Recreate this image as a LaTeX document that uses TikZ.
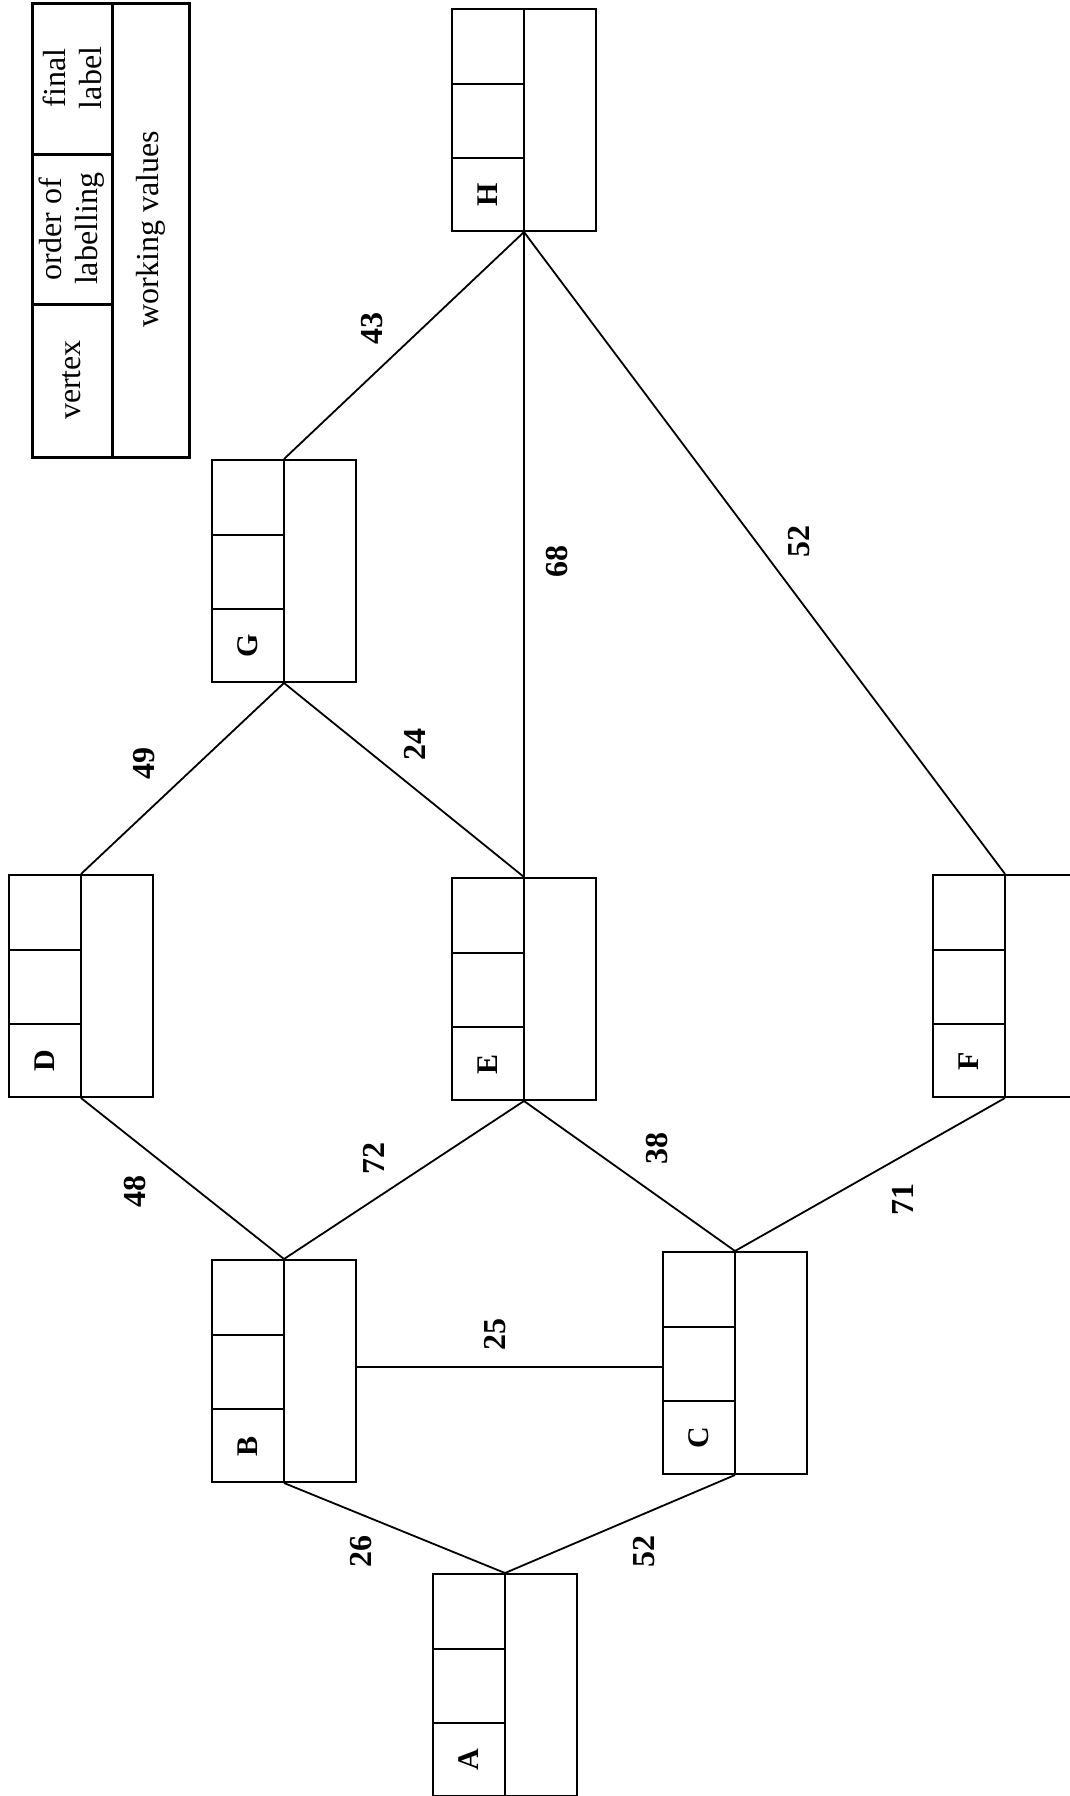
\documentclass[tikz,border=0pt]{standalone}
\usepackage{fontspec}
\setmainfont{Liberation Serif}
\usetikzlibrary{calc}
\tikzset{
  boxnode/.style={draw, line width=2pt, rectangle, minimum width=144pt, minimum height=222pt, inner sep=0pt, anchor=north west},
  cell/.style={line width=2pt},
  edge/.style={line width=1.8pt},
  wlabel/.style={font=\fontsize{32}{36}\selectfont\bfseries, rotate=90, inner sep=0pt},
  vlabel/.style={font=\fontsize{30}{34}\selectfont\bfseries, rotate=90, inner sep=0pt},
  legline/.style={line width=3pt},
  legtext/.style={font=\fontsize{32}{36}\selectfont, rotate=90, align=center, inner sep=0pt},
}
\newcommand{\vtxbox}[4]{%
  \node[boxnode] (#1) at (#2,#3) {};
  \coordinate (#1t) at ($(#1.north west)+(73,0)$);
  \coordinate (#1b) at ($(#1.south west)+(73,0)$);
  \draw[cell] (#1t) -- (#1b);
  \draw[cell] ($(#1.south west)+(0,-74)$) -- ++(73,0);
  \draw[cell] ($(#1.south west)+(0,-148)$) -- ++(73,0);
  \node[vlabel] (#1l) at ($(#1.south west)+(36.5,-37)$) {#4};
}
\begin{document}
\begin{tikzpicture}[x=1pt,y=-1pt]
\useasboundingbox (0,0) rectangle (1069,1796);
% legend
\node[draw, legline, minimum width=157pt, minimum height=454pt, inner sep=0pt, anchor=north west] (leg) at (31,2) {};
\draw[legline] ($(leg.north west)+(81,0)$) -- ($(leg.south west)+(81,0)$);
\draw[legline] (31,154) -- (112,154);
\draw[legline] (31,304) -- (112,304);
\node[legtext] (lfinal) at (72,78) {final\\label};
\node[legtext] (lorder) at (72,229) {order of\\labelling};
\node[legtext] (lvertex) at (72,380) {vertex};
\node[legtext] (lwork) at (151,229) {working values};
% vertex boxes
\vtxbox{A}{432}{1573}{A}
\vtxbox{B}{211}{1259}{B}
\vtxbox{C}{662}{1251}{C}
\vtxbox{D}{8}{874}{D}
\vtxbox{E}{451}{877}{E}
\vtxbox{F}{932}{874}{F}
\vtxbox{G}{211}{459}{G}
\vtxbox{H}{451}{8}{H}
% edges
\draw[edge] (At) -- (Bb);
\draw[edge] (At) -- (Cb);
\coordinate (bc) at (0,1367);
\draw[edge] (B.east |- bc) -- (C.west |- bc);
\draw[edge] (Bt) -- (Db);
\draw[edge] (Bt) -- (Eb);
\draw[edge] (Ct) -- (Eb);
\draw[edge] (Ct) -- (Fb);
\draw[edge] (Dt) -- (Gb);
\draw[edge] (Et) -- (Gb);
\draw[edge] (Et) -- (Hb);
\draw[edge] (Ft) -- (Hb);
\draw[edge] (Gt) -- (Hb);
% weights
\node[wlabel] (w26) at (361,1551) {26};
\node[wlabel] (w52a) at (644,1551) {52};
\node[wlabel] (w25) at (495,1334) {25};
\node[wlabel] (w48) at (135,1191) {48};
\node[wlabel] (w72) at (374,1158) {72};
\node[wlabel] (w38) at (657,1148) {38};
\node[wlabel] (w71) at (903,1199) {71};
\node[wlabel] (w49) at (144,763) {49};
\node[wlabel] (w24) at (415,744) {24};
\node[wlabel] (w68) at (557,561) {68};
\node[wlabel] (w52b) at (799,541) {52};
\node[wlabel] (w43) at (372,328) {43};
\end{tikzpicture}
\end{document}
